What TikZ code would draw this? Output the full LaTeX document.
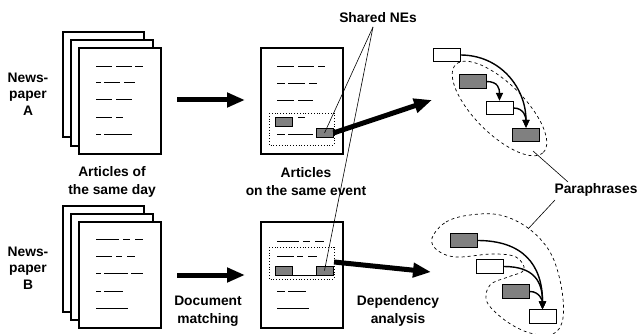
\documentclass[tikz,border=0pt]{standalone}
\usepackage{fontspec}
\setmainfont{Liberation Sans}
\usetikzlibrary{arrows.meta,shapes.geometric}
\begin{document}
\begin{tikzpicture}[x=1pt,y=-1pt,
  page/.style={draw,line width=1.3pt,fill=white},
  txt/.style={line width=0.9pt},
  lbl/.style={font=\fontsize{13.8}{18}\selectfont\bfseries,align=center,inner sep=0pt},
  nplbl/.style={font=\fontsize{13.8}{16.5}\selectfont\bfseries,align=center,inner sep=0pt},
  ne/.style={draw,line width=0.8pt,fill=black!50,minimum width=27pt,minimum height=13.5pt,inner sep=0pt},
  wb/.style={draw,line width=0.8pt,fill=white,minimum width=27pt,minimum height=13.5pt,inner sep=0pt},
  sne/.style={draw,line width=0.7pt,fill=black!50,minimum width=17pt,minimum height=9pt,inner sep=0pt},
  big/.style={line width=5pt,-{Triangle[length=18pt,width=14pt]}},
  dep/.style={line width=1.4pt,-{Triangle[length=8pt,width=7pt]}},
  pointer/.style={line width=0.6pt},
  region/.style={dashed,line width=0.7pt}
]
\useasboundingbox (0,0) rectangle (639,334);

% ---- Newspaper A stack
\draw[page] (63,32) rectangle (144,137);
\draw[page] (71,40) rectangle (153,146);
\draw[page] (79,48) rectangle (161,154);
\draw[txt] (96,66)--(112,66) (116,66)--(132,66) (135,66)--(143,66);
\draw[txt] (96,82)--(101,82) (104,82)--(120,82) (124,82)--(135,82);
\draw[txt] (96,99)--(112,99) (116,99)--(132,99);
\draw[txt] (96,117)--(112,117) (116,117)--(123,117);
\draw[txt] (96,134)--(101,134) (104,134)--(132,134);
\node[nplbl] (npA) at (28,94) {News-\\paper\\A};

% ---- Newspaper B stack
\draw[page] (63,206) rectangle (144,312);
\draw[page] (71,214) rectangle (153,320);
\draw[page] (79,222) rectangle (161,328);
\draw[txt] (96,239)--(119,239) (123,239)--(130,239) (135,239)--(143,239);
\draw[txt] (96,256)--(112,256) (116,256)--(122,256) (127,256)--(135,256);
\draw[txt] (96,273)--(101,273) (104,273)--(128,273) (131,273)--(143,273);
\draw[txt] (96,291)--(101,291) (104,291)--(123,291);
\draw[txt] (96,308)--(128,308);
\node[nplbl] (npB) at (28,268) {News-\\paper\\B};

\node[lbl] (artday) at (112,182) {Articles of\\the same day};

% ---- big arrows left
\coordinate (a1s) at (177,100); \coordinate (a1e) at (245,100);
\coordinate (a2s) at (177,275); \coordinate (a2e) at (245,275);
\draw[big] (a1s) -- (a1e);
\draw[big] (a2s) -- (a2e);
\node[lbl] (docm) at (208,311) {Document\\matching};

% ---- matched article top
\draw[page] (261,48) rectangle (343,154);
\draw[txt] (277,66)--(294,66) (298,66)--(314,66) (318,66)--(325,66);
\draw[txt] (277,83)--(285,83) (288,83)--(305,83) (309,83)--(317,83);
\draw[txt] (277,100)--(294,100) (298,100)--(313,100);
\draw[txt] (298,117)--(305,117);
\draw[txt] (277,134)--(285,134) (288,134)--(313,134);
\draw[dotted,line width=0.8pt] (269,113) rectangle (334,145);
\node[sne] (g1) at (283.5,121.5) {};
\node[sne] (g2) at (324.5,133) {};

% ---- matched article bottom
\draw[page] (261,222) rectangle (343,328);
\draw[txt] (277,241)--(299,241) (303,241)--(310,241) (315,241)--(324,241);
\draw[txt] (277,256)--(294,256) (297,256)--(303,256) (308,256)--(317,256);
\draw[txt] (277,291)--(285,291) (288,291)--(306,291);
\draw[txt] (277,308)--(309,308);
\draw[dotted,line width=0.8pt] (269,247) rectangle (334,279);
\node[sne] (g3) at (283.5,270.5) {};
\node[sne] (g4) at (324.5,270.5) {};
\draw[txt] (g3.south east) -- (g4.south west);

\node[lbl] (artev) at (306,182) {Articles\\on the same event};

% ---- Shared NEs
\node[lbl] (shared) at (378,18) {Shared NEs};
\coordinate (sh) at (373,27);
\draw[pointer] (sh) -- (g2.center);
\draw[pointer] (sh) -- (g4.center);

% ---- big arrows middle
\coordinate (b1e) at (432,100);
\coordinate (b2s) at (334,262); \coordinate (b2e) at (431,272);
\draw[big] (g2.east) -- (b1e);
\draw[big] (b2s) -- (b2e);
\node[lbl] (depa) at (398,311) {Dependency\\analysis};

% ---- top dependency cluster
\node[wb] (w1) at (446.5,55) {};
\node[ne] (ga) at (472.5,81.5) {};
\node[wb] (w2) at (499.5,108) {};
\node[ne] (gb) at (526,135) {};
\draw[dep] (w1.east) .. controls +(40,0) and +(0,-40) .. (gb.north);
\draw[dep] (ga.east) .. controls +(12,0) and +(0,-12) .. (w2.north);
\draw[dep] (w2.east) .. controls +(11,0) and +(0,-10) .. (gb.north);
\node[region,draw,ellipse,minimum width=124pt,minimum height=50pt,inner sep=0pt,rotate=-45] (ell) at (499.5,108.5) {};

% ---- bottom dependency cluster
\node[ne] (gc) at (463.5,240.5) {};
\node[wb] (wd) at (490,266.5) {};
\node[ne] (ge) at (516,291.5) {};
\node[wb] (wf) at (542.5,316.5) {};
\draw[dep] (gc.east) .. controls +(45,0) and +(0,-45) .. (wf.north);
\draw[dep] (wd.east) .. controls +(30,0) and +(0,-28) .. (wf.north);
\draw[dep] (ge.east) .. controls +(10,0) and +(0,-8) .. (wf.north);
\draw[region] plot[smooth cycle,tension=0.6] coordinates {
 (432,238) (446,222) (470,215) (500,215) (528,228) (550,252) (561,285)
 (563,318) (553,334) (530,333) (506,321) (487,302) (490,285) (508,277)
 (524,270) (516,257) (492,254) (456,257) (437,250)};

% ---- Paraphrases
\node[lbl] (para) at (596,190) {Paraphrases};
\coordinate (p1) at (568,182); \coordinate (p1e) at (533,151);
\coordinate (p2) at (555,200); \coordinate (p2e) at (528,229);
\draw[pointer] (p1) -- (p1e);
\draw[pointer] (p2) -- (p2e);
\end{tikzpicture}
\end{document}
